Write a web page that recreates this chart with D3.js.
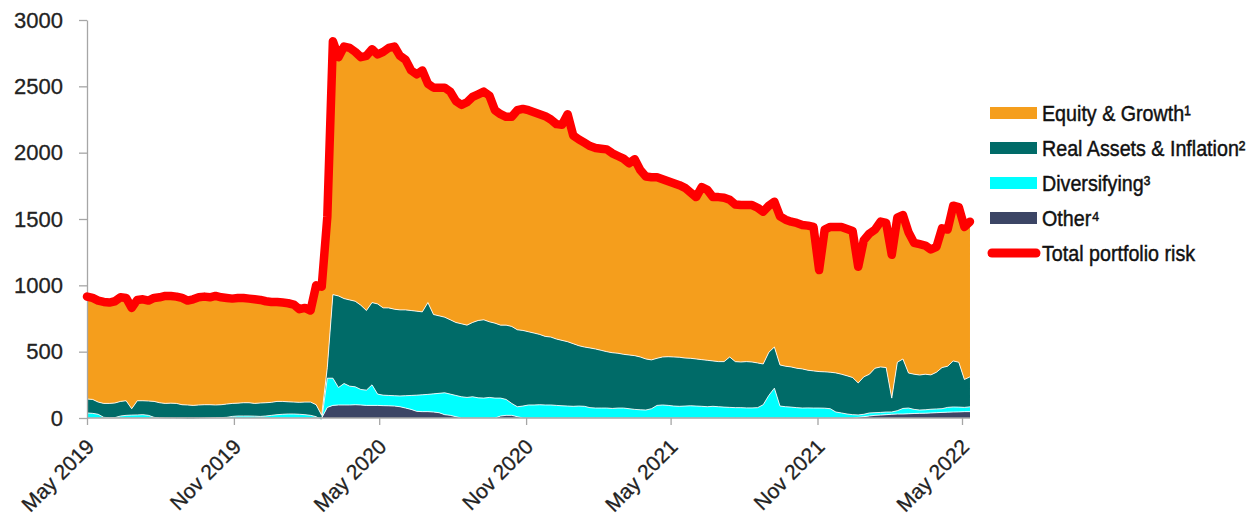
<!DOCTYPE html>
<html><head><meta charset="utf-8">
<script src="https://cdn.jsdelivr.net/npm/d3@7"></script>
<style>body{margin:0;background:#fff;} svg{display:block;}</style>
</head><body><svg id="chart" width="1255" height="516"></svg>
<script>
// Weekly observations starting on this date
const startDate = "2019-05-01";

const totalRisk = [
915,905,885,875,870,880,910,905,830,890,
895,885,905,910,920,920,915,905,885,895,
910,915,910,920,910,905,900,905,905,900,
895,890,880,875,875,870,865,855,820,830,
810,1000,990,1515,2840,2720,2800,2790,2760,2720,
2730,2780,2740,2760,2790,2800,2730,2700,2620,2590,
2620,2520,2490,2490,2490,2460,2390,2360,2380,2420,
2440,2460,2430,2320,2290,2270,2270,2320,2330,2320,
2305,2290,2275,2250,2215,2210,2290,2130,2100,2075,
2050,2035,2030,2025,1995,1975,1955,1920,1950,1870,
1820,1815,1815,1800,1785,1770,1755,1735,1700,1665,
1740,1720,1665,1665,1660,1645,1610,1605,1605,1605,
1585,1555,1600,1630,1520,1495,1480,1470,1455,1450,
1440,1115,1420,1440,1440,1440,1425,1410,1140,1340,
1390,1420,1480,1470,1230,1510,1530,1400,1320,1310,
1300,1270,1290,1430,1420,1600,1590,1440,1480];

const equityGrowth = [
772,765,765,765,760,767,785,775,760,760,
765,757,780,795,810,808,805,805,787,800,
812,815,810,822,810,800,790,793,790,785,
785,777,765,757,750,745,743,735,702,710,
690,900,970,1135,1910,1800,1900,1900,1880,1870,
1920,1910,1880,1930,1960,1980,1915,1885,1810,1785,
1820,1650,1710,1720,1730,1720,1670,1650,1680,1700,
1705,1720,1705,1605,1590,1570,1580,1655,1670,1670,
1665,1660,1660,1640,1620,1625,1715,1570,1555,1540,
1522,1515,1520,1525,1503,1487,1475,1445,1480,1410,
1375,1377,1365,1340,1323,1310,1297,1283,1250,1220,
1300,1285,1235,1240,1235,1185,1185,1183,1180,1183,
1170,1148,1105,1095,1120,1105,1095,1095,1085,1090,
1085,765,1072,1095,1100,1110,1107,1105,876,1030,
1060,1045,1095,1090,1080,1090,1085,1061,990,986,
970,945,945,1050,1030,1170,1170,1150,1170];

const realAssets = [
105,105,92,105,108,110,110,110,48,107,
105,108,120,115,112,115,115,106,106,103,
103,102,100,96,97,100,98,97,100,100,
96,101,100,98,100,97,92,90,90,95,
100,90,35,80,630,690,640,650,645,635,
600,620,680,658,660,652,649,647,640,633,
625,692,598,584,570,560,550,550,545,560,
583,590,570,565,550,560,580,580,570,552,
542,530,517,512,500,493,485,472,455,447,
450,445,435,425,420,413,405,405,405,398,
385,368,355,362,367,370,370,362,358,355,
352,350,342,340,343,380,347,344,349,346,
337,307,325,310,310,305,303,297,295,284,
280,275,274,275,295,292,288,280,241,282,
292,335,343,335,105,365,373,264,265,264,
268,259,277,310,310,347,338,210,226];

const diversifying = [
38,35,28,5,2,3,15,20,22,23,
25,20,5,0,-2,-3,-5,-6,-8,-8,
-5,-2,0,2,3,5,12,15,15,15,
14,12,15,20,25,28,30,30,28,25,
20,10,-15,220,205,132,162,142,135,117,
115,155,85,79,78,78,81,93,105,122,
127,130,137,146,165,160,160,160,155,160,
152,150,155,150,135,120,90,75,90,98,
98,100,98,98,95,92,90,88,90,88,
78,75,75,75,72,75,75,70,65,62,
60,70,95,98,95,90,88,90,92,90,
88,85,88,85,82,80,78,78,76,76,
78,100,170,225,90,85,82,78,75,76,
75,75,74,70,45,38,30,25,18,18,
23,20,20,20,17,25,42,43,31,25,
26,28,28,28,36,38,36,32,36];

const other = [
0,0,0,0,0,0,0,0,0,0,
0,0,0,0,0,0,0,0,0,0,
0,0,0,0,0,0,0,0,0,0,
0,0,0,0,0,0,0,0,0,0,
0,0,0,80,95,98,98,98,100,98,
95,95,95,93,92,90,85,75,65,50,
48,48,45,40,25,20,10,0,0,0,
0,0,0,0,15,20,20,10,0,0,
0,0,0,0,0,0,0,0,0,0,
0,0,0,0,0,0,0,0,0,0,
0,0,0,0,0,0,0,0,0,0,
0,0,0,0,0,0,0,0,0,0,
0,0,0,0,0,0,0,0,0,0,
0,0,0,0,0,0,0,0,5,10,
15,20,22,25,28,30,30,32,34,35,
36,38,40,42,44,45,46,48,48];

const seriesLabels = ["Equity & Growth\u00B9", "Real Assets & Inflation\u00B2", "Diversifying\u00B3", "Other\u2074", "Total portfolio risk"];
const yTicks = [0, 500, 1000, 1500, 2000, 2500, 3000];
const xTickLabels = ["May 2019", "Nov 2019", "May 2020", "Nov 2020", "May 2021", "Nov 2021", "May 2022"];

const COLORS = {equity: "#F59E1C", real: "#006B68", div: "#00FFFF", other: "#3C4565", total: "#FF0000"};

const parseDay = d3.timeParse("%Y-%m-%d");
const parseTick = d3.timeParse("%b %Y");
const t0 = parseDay(startDate);
const dates = totalRisk.map((_, i) => d3.timeDay.offset(t0, 7 * i));
const tickDates = xTickLabels.map(parseTick);

const svg = d3.select("#chart");
const x = d3.scaleTime().domain([tickDates[0], tickDates[tickDates.length - 1]]).range([87, 962]);
const y = d3.scaleLinear().domain([0, 3000]).range([418, 20]);

const rows = dates.map((d, i) => ({date: d, other: other[i], div: diversifying[i], real: realAssets[i], equity: equityGrowth[i]}));
const keys = ["other", "div", "real", "equity"];
const series = d3.stack().keys(keys).offset(d3.stackOffsetNone)(rows);

const area = d3.area().x(d => x(d.data.date)).y0(d => y(d[0])).y1(d => y(d[1]));
const topLine = d3.line().x(d => x(d.data.date)).y(d => y(d[1]));

const gA = svg.append("g");
gA.selectAll("path.area").data(series).join("path")
  .attr("class", "area")
  .attr("d", area)
  .attr("fill", s => COLORS[s.key]);
gA.selectAll("path.edge").data(series.filter(s => s.key !== "equity")).join("path")
  .attr("class", "edge")
  .attr("d", topLine)
  .attr("fill", "none")
  .attr("stroke", "#ffffff")
  .attr("stroke-opacity", 0.85)
  .attr("stroke-width", 1);

// axes
const axisColor = "#A6A6A6";
const textColor = "#222222";
const yAxis = svg.append("g").attr("transform", "translate(87,0)")
  .call(d3.axisLeft(y).tickValues(yTicks).tickSize(8).tickPadding(16).tickSizeOuter(0).tickFormat(d3.format("d")));
yAxis.selectAll("path, line").attr("stroke", axisColor).attr("stroke-width", 1.3);
yAxis.selectAll("text").attr("fill", textColor)
  .style("font-family", "'Liberation Sans', Arial, sans-serif").style("font-size", "22px")
  .attr("stroke", textColor).attr("stroke-width", 0.3);

const xAxis = svg.append("g").attr("transform", "translate(0,418)")
  .call(d3.axisBottom(x).tickValues(tickDates).tickSize(7).tickSizeOuter(0).tickFormat((d, i) => xTickLabels[i]));
xAxis.select(".domain").remove();
xAxis.append("line").attr("x1", x(dates[0])).attr("x2", x(dates[dates.length - 1])).attr("y1", 0).attr("y2", 0);
xAxis.selectAll("line").attr("stroke", axisColor).attr("stroke-width", 1.3);
xAxis.selectAll("text")
  .attr("x", 0).attr("y", 0).attr("dy", 0)
  .attr("transform", "translate(8,30) rotate(-45)")
  .style("text-anchor", "end")
  .attr("fill", textColor)
  .attr("stroke", textColor).attr("stroke-width", 0.3)
  .style("font-family", "'Liberation Sans', Arial, sans-serif").style("font-size", "21px");

// total line
const totalLine = d3.line().x((d, i) => x(dates[i])).y(d => y(d)).curve(d3.curveLinear);
svg.append("path").datum(totalRisk)
  .attr("d", totalLine)
  .attr("fill", "none")
  .attr("stroke", COLORS.total)
  .attr("stroke-width", 8.5)
  .attr("stroke-linejoin", "round")
  .attr("stroke-linecap", "round");

// legend
const legendKeys = ["equity", "real", "div", "other", "total"];
const lg = svg.append("g").attr("transform", "translate(990,113)");
legendKeys.forEach((k, i) => {
  const g = lg.append("g").attr("transform", `translate(0,${i * 35})`);
  if (k === "total") {
    g.append("line").attr("x1", 2).attr("x2", 46).attr("y1", 0).attr("y2", 0)
      .attr("stroke", COLORS.total).attr("stroke-width", 9).attr("stroke-linecap", "round");
  } else {
    g.append("rect").attr("x", 0).attr("y", -6).attr("width", 47).attr("height", 12).attr("fill", COLORS[k]);
  }
  g.append("g").attr("transform", "translate(52,0) scale(0.895,1)")
    .append("text").attr("x", 0).attr("y", 0).attr("dy", "0.36em")
    .text(seriesLabels[i])
    .attr("fill", "#111")
    .attr("stroke", "#111").attr("stroke-width", 0.45)
    .style("font-family", "'Liberation Sans', Arial, sans-serif")
    .style("font-size", "22px");
});
</script>
</body></html>
